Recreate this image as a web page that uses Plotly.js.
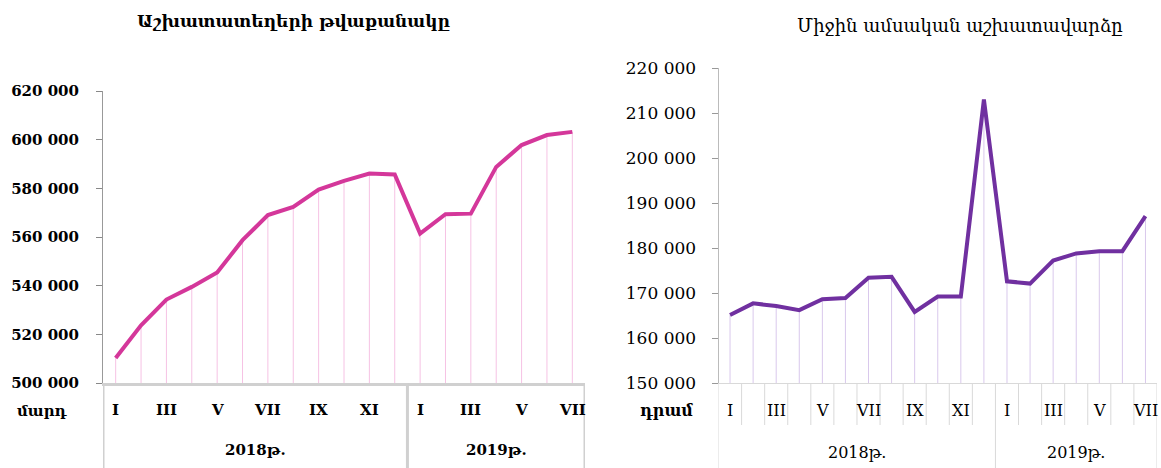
<!DOCTYPE html>
<html>
<head>
<meta charset="utf-8">
<script src="https://cdn.plot.ly/plotly-3.0.1.min.js"></script>
<style>html,body{margin:0;padding:0;background:#fff;}#chart{width:1161px;height:468px;}</style>
</head>
<body>
<div id="chart"></div>
<script>
// ---- data ----
const months = ['I','II','III','IV','V','VI','VII','VIII','IX','X','XI','XII','I','II','III','IV','V','VI','VII'];
const yearNames = ['2018թ.','2019թ.'];
const yearCounts = [12, 7];
const jobs = [510300, 523700, 534300, 539500, 545400, 558700, 569000, 572400, 579500, 583100, 586100, 585700,
              561400, 569400, 569600, 588800, 597800, 601900, 603200];
const wages = [165100, 167700, 167100, 166200, 168600, 168900, 173400, 173600, 165800, 169200, 169200, 213000,
               172600, 172100, 177200, 178800, 179300, 179300, 187100];
const titleLeft = 'Աշխատատեղերի թվաքանակը';
const titleRight = 'Միջին ամսական աշխատավարձը';
const unitLeft = 'մարդ';
const unitRight = 'դրամ';

// ---- style ----
const H = 468, W = 1161;
const py = px => (H - px) / H;
const leftRange = [500000, 620000];
const rightRange = [150000, 220000];
const pink = '#D4379A', pinkLight = '#F6C2E4';
const purple = '#7030A0', purpleLight = '#D9C8EC';
const serif = 'DejaVu Serif';

const idx = months.map((_, i) => i);
function drops(vals, base) {
  const xs = [], ys = [];
  vals.forEach((v, i) => { xs.push(i, i, null); ys.push(base, v, null); });
  return {xs, ys};
}
const dL = drops(jobs, leftRange[0]);
const dR = drops(wages, rightRange[0]);

const traces = [
  {x: dL.xs, y: dL.ys, xaxis: 'x', yaxis: 'y', mode: 'lines', line: {color: pinkLight, width: 1}, hoverinfo: 'skip'},
  {x: idx, y: jobs, xaxis: 'x', yaxis: 'y', mode: 'lines', line: {color: pink, width: 4}},
  {x: dR.xs, y: dR.ys, xaxis: 'x2', yaxis: 'y2', mode: 'lines', line: {color: purpleLight, width: 1}, hoverinfo: 'skip'},
  {x: idx, y: wages, xaxis: 'x2', yaxis: 'y2', mode: 'lines', line: {color: purple, width: 4}}
];

// year boundaries
const bounds = [0];
yearCounts.forEach(c => bounds.push(bounds[bounds.length - 1] + c));

const shapes = [];
const annotations = [];
const axisBottom = py(383);

// left box
bounds.forEach(b => shapes.push({type: 'line', xref: 'x', yref: 'paper', x0: b - 0.5, x1: b - 0.5, y0: 0, y1: axisBottom,
  line: {color: '#d0d0d0', width: 3}}));
// right dividers
for (let i = 0; i <= months.length; i++) {
  const long = bounds.includes(i);
  shapes.push({type: 'line', xref: 'x2', yref: 'paper', x0: i - 0.5, x1: i - 0.5, y0: long ? 0 : py(425), y1: axisBottom,
    line: {color: '#d9d9d9', width: 1}});
}

function ann(o) {
  return Object.assign({showarrow: false, xanchor: 'center', yanchor: 'middle'}, o);
}

// month labels
months.forEach((m, i) => {
  if (i % 2 === 0) {
    annotations.push(ann({x: i, y: py(410), xref: 'x', yref: 'paper', text: m,
      font: {family: serif, size: 15, color: '#000', weight: 'bold'}}));
    annotations.push(ann({x: i, y: py(410), xref: 'x2', yref: 'paper', text: m,
      font: {family: serif, size: 16, color: '#000'}}));
  }
});
// year labels
yearNames.forEach((y, k) => {
  const c = (bounds[k] + bounds[k + 1] - 1) / 2;
  annotations.push(ann({x: c, y: py(450), xref: 'x', yref: 'paper', text: y,
    font: {family: serif, size: 15, color: '#000', weight: 'bold'}}));
  annotations.push(ann({x: c, y: py(452), xref: 'x2', yref: 'paper', text: y,
    font: {family: serif, size: 16, color: '#000'}}));
});
// titles
annotations.push(ann({x: 293 / W, y: py(21), xref: 'paper', yref: 'paper', text: titleLeft,
  font: {family: serif, size: 17, color: '#000', weight: 'bold'}}));
annotations.push(ann({x: 960 / W, y: py(25), xref: 'paper', yref: 'paper', text: titleRight,
  font: {family: serif, size: 18, color: '#000'}}));
// units
annotations.push(ann({x: 42 / W, y: py(411), xref: 'paper', yref: 'paper', text: unitLeft,
  font: {family: serif, size: 15, color: '#000', weight: 'bold'}}));
annotations.push(ann({x: 666 / W, y: py(410), xref: 'paper', yref: 'paper', text: unitRight,
  font: {family: serif, size: 16, color: '#000', weight: 'bold'}}));

const layout = {
  width: W, height: H,
  margin: {l: 0, r: 0, t: 0, b: 0},
  paper_bgcolor: '#fff', plot_bgcolor: 'rgba(0,0,0,0)',
  showlegend: false,
  separators: '. ',
  xaxis: {domain: [103 / W, 585 / W], range: [-0.5, months.length - 0.5], anchor: 'y',
    showticklabels: false, ticks: '', showgrid: false, zeroline: false,
    showline: true, linecolor: '#d0d0d0', linewidth: 3},
  yaxis: {domain: [py(383), py(91)], range: leftRange, dtick: 20000, tickformat: ',d', anchor: 'x',
    ticks: 'outside', ticklen: 6, tickcolor: '#888', showline: true, linecolor: '#999', linewidth: 1,
    showgrid: false, zeroline: false, ticklabelstandoff: 14,
    tickfont: {family: serif, size: 15, color: '#000', weight: 'bold'}},
  xaxis2: {domain: [718.5 / W, 1157 / W], range: [-0.5, months.length - 0.5], anchor: 'y2',
    showticklabels: false, ticks: '', showgrid: false, zeroline: false,
    showline: true, linecolor: '#d9d9d9', linewidth: 1},
  yaxis2: {domain: [py(383), py(68)], range: rightRange, dtick: 10000, tickformat: ',d', anchor: 'x2',
    ticks: 'outside', ticklen: 6, tickcolor: '#999', showline: true, linecolor: '#bbb', linewidth: 1,
    showgrid: false, zeroline: false, ticklabelstandoff: 12,
    tickfont: {family: serif, size: 17, color: '#000'}},
  shapes, annotations
};

Plotly.newPlot('chart', traces, layout, {staticPlot: true, displayModeBar: false});
</script>
</body>
</html>
